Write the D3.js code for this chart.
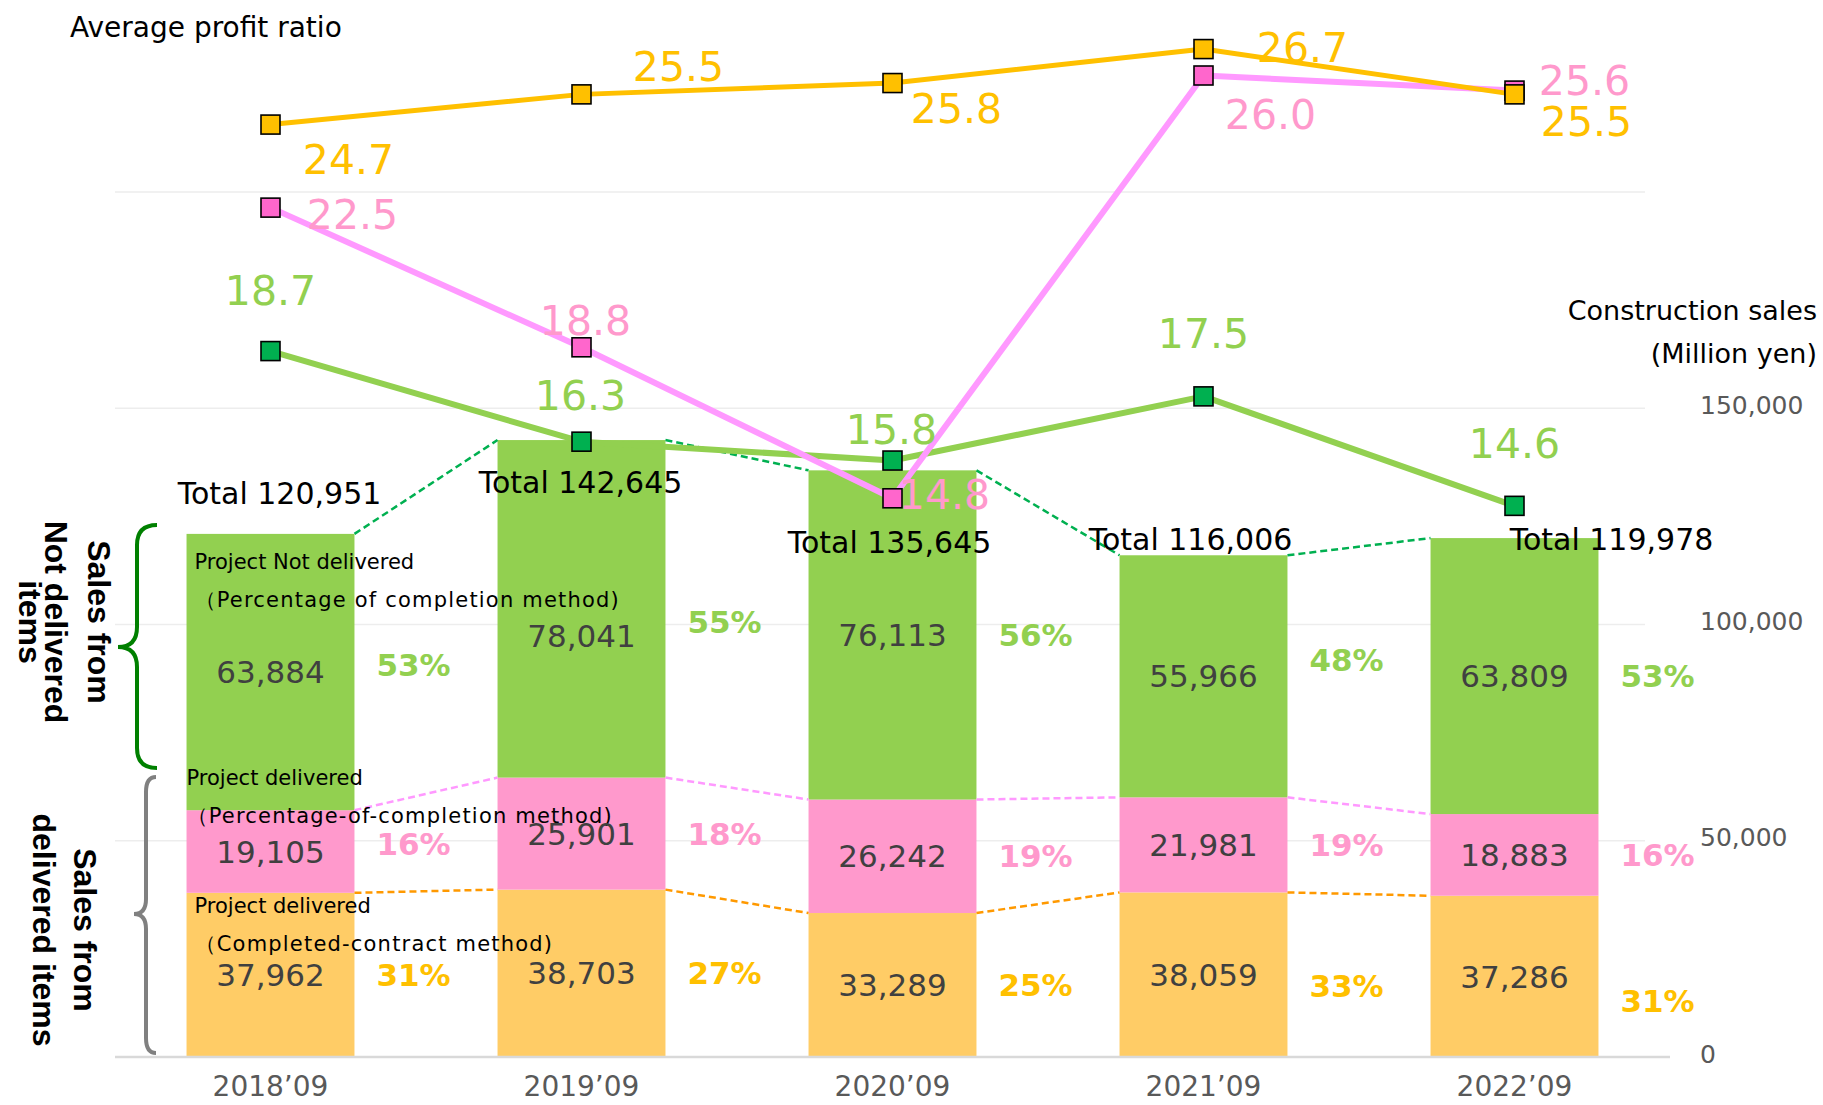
<!DOCTYPE html>
<html lang="en">
<head>
<meta charset="UTF-8">
<title>Construction sales and average profit ratio</title>
<script src="https://d3js.org/d3.v7.min.js"></script>
<style>
    body { margin: 0; background: #fff; }
    svg { display: block; font-family: "DejaVu Sans", Verdana, sans-serif; }
    .side-title { font-family: "Liberation Sans", Arial, sans-serif; font-weight: bold; font-size: 32px; }
    .axis text { font-family: "DejaVu Sans", Verdana, sans-serif; fill: #595959; }
</style>
</head>
<body>
<script>
    const years = ["2018’09", "2019’09", "2020’09", "2021’09", "2022’09"];

    // construction sales, million yen
    const notDelivered = [63884, 78041, 76113, 55966, 63809];
    const deliveredPoc = [19105, 25901, 26242, 21981, 18883];
    const deliveredCc = [37962, 38703, 33289, 38059, 37286];
    const totals = [120951, 142645, 135645, 116006, 119978];

    // share of total, %
    const pctNotDelivered = [53, 55, 56, 48, 53];
    const pctPoc = [16, 18, 19, 19, 16];
    const pctCc = [31, 27, 25, 33, 31];

    // average profit ratio, %
    const profitCc = [24.7, 25.5, 25.8, 26.7, 25.5];
    const profitPoc = [22.5, 18.8, 14.8, 26.0, 25.6];
    const profitNotDelivered = [18.7, 16.3, 15.8, 17.5, 14.6];

    const salesTicks = [0, 50000, 100000, 150000];
    const gridTicks = [50000, 100000, 150000, 200000];

    const width = 1823, height = 1105;
    const fmt = d3.format(",");

    const svg = d3.select("body").append("svg")
        .attr("width", width)
        .attr("height", height);

    const x = d3.scaleBand().domain(years).range([115, 1670]).paddingInner(0.46).paddingOuter(0.23);
    const y = d3.scaleLinear().domain([0, 200000]).range([1057, 192]);
    const y2 = d3.scaleLinear().domain([0, 28]).range([1057, 0]); // hidden secondary axis for the ratios
    const cx = yr => x(yr) + x.bandwidth() / 2;

    // grid
    svg.append("g").selectAll("line").data(gridTicks).join("line")
        .attr("x1", x.range()[0]).attr("x2", 1645)
        .attr("y1", d => y(d)).attr("y2", d => y(d))
        .attr("stroke", "#EDEDED").attr("stroke-width", 1.5);

    // stacked bars
    const rows = years.map((year, i) => ({ year, cc: deliveredCc[i], poc: deliveredPoc[i], nd: notDelivered[i] }));
    const stacked = d3.stack().keys(["cc", "poc", "nd"])(rows);
    const barColor = { cc: "#FFCC66", poc: "#FF99CC", nd: "#92D050" };
    const dashColor = { cc: "#FF9900", poc: "#FF99FF", nd: "#00B050" };
    const pctColor = { cc: "#FFC000", poc: "#FF99CC", nd: "#92D050" };
    const pcts = { cc: pctCc, poc: pctPoc, nd: pctNotDelivered };

    svg.append("g").selectAll("g").data(stacked).join("g")
        .attr("fill", d => barColor[d.key])
        .selectAll("rect").data(d => d).join("rect")
        .attr("x", d => x(d.data.year))
        .attr("width", x.bandwidth())
        .attr("y", d => y(d[1]))
        .attr("height", d => y(d[0]) - y(d[1]));

    // baseline
    svg.append("line")
        .attr("x1", x.range()[0]).attr("x2", x.range()[1])
        .attr("y1", y(0)).attr("y2", y(0))
        .attr("stroke", "#D9D9D9").attr("stroke-width", 2.5);

    // dashed connectors between bar segments
    stacked.forEach(layer => {
        svg.append("g").selectAll("line").data(d3.pairs(layer)).join("line")
            .attr("x1", ([a]) => x(a.data.year) + x.bandwidth())
            .attr("y1", ([a]) => y(a[1]))
            .attr("x2", ([, b]) => x(b.data.year))
            .attr("y2", ([, b]) => y(b[1]))
            .attr("stroke", dashColor[layer.key])
            .attr("stroke-width", 2.5)
            .attr("stroke-dasharray", "7,4");
    });

    // segment names next to the first bar
    const segNames = [
        { key: "nd", lines: ["Project Not delivered", "（Percentage of completion method)"], dy: 35, dx: 8 },
        { key: "poc", lines: ["Project delivered", "（Percentage-of-completion method)"], dy: -25, dx: 0 },
        { key: "cc", lines: ["Project delivered", "（Completed-contract method)"], dy: 20, dx: 8 }
    ];
    segNames.forEach(s => {
        const first = stacked.find(l => l.key === s.key)[0];
        const t = svg.append("text")
            .attr("x", x(years[0]) + s.dx)
            .attr("y", y(first[1]) + s.dy)
            .attr("font-size", 21)
            .attr("fill", "#000");
        s.lines.forEach((ln, i) => {
            t.append("tspan")
                .attr("x", x(years[0]) + s.dx)
                .attr("dy", i ? 38 : 0)
                .attr("letter-spacing", i ? 1.2 : 0)
                .text(ln);
        });
    });

    // values inside segments and shares beside them
    const valueNudge = { "nd-1": 27 };
    const pctNudge = { "nd-0": -7, "nd-1": 13, "nd-3": -16, "poc-0": -8, "cc-3": 11, "cc-4": 24 };
    stacked.forEach(layer => {
        const g = svg.append("g");
        g.selectAll("text.v").data(layer).join("text")
            .attr("class", "v")
            .attr("x", d => cx(d.data.year))
            .attr("y", (d, i) => (y(d[0]) + y(d[1])) / 2 + (valueNudge[layer.key + "-" + i] || 0))
            .attr("dy", "0.36em")
            .attr("text-anchor", "middle")
            .attr("font-size", 31)
            .attr("fill", "#404040")
            .text(d => fmt(d.data[layer.key]));
        g.selectAll("text.p").data(layer).join("text")
            .attr("class", "p")
            .attr("x", d => cx(d.data.year) + 143)
            .attr("y", (d, i) => (y(d[0]) + y(d[1])) / 2 + (pctNudge[layer.key + "-" + i] || 0))
            .attr("dy", "0.36em")
            .attr("text-anchor", "middle")
            .attr("font-size", 31)
            .attr("font-weight", "bold")
            .attr("fill", pctColor[layer.key])
            .text((d, i) => pcts[layer.key][i] + "%");
    });

    // totals
    const totalNudge = [[9, -30], [-1, 53], [-3, 83], [-13, -5], [97, 12]];
    svg.append("g").selectAll("text").data(totals).join("text")
        .attr("x", (d, i) => cx(years[i]) + totalNudge[i][0])
        .attr("y", (d, i) => y(d) + totalNudge[i][1])
        .attr("text-anchor", "middle")
        .attr("font-size", 30)
        .attr("fill", "#000")
        .text(d => "Total " + fmt(d));

    // axes
    const xAxis = svg.append("g").attr("class", "axis")
        .attr("transform", `translate(0,${y(0)})`)
        .call(d3.axisBottom(x).tickSize(0).tickPadding(19));
    xAxis.select(".domain").remove();
    xAxis.selectAll("text").attr("font-size", 28);

    const yAxis = svg.append("g").attr("class", "axis")
        .attr("transform", "translate(1690,0)")
        .call(d3.axisRight(y).tickValues(salesTicks).tickSize(0).tickPadding(10).tickFormat(fmt));
    yAxis.select(".domain").remove();
    yAxis.selectAll("text").attr("font-size", 25).attr("dy", "0.2em");

    // profit ratio lines
    const lineSeries = [
        { values: profitNotDelivered, stroke: "#92D050", marker: "#00B050", label: "#92D050", w: 6,
          nudge: [[0, -46], [-1, -32], [-1, -17], [0, -48], [0, -48]] },
        { values: profitPoc, stroke: "#FF99FF", marker: "#FF66CC", label: "#FF99CC", w: 6,
          nudge: [[82, 21], [4, -12], [52, 11], [67, 53], [70, 4]] },
        { values: profitCc, stroke: "#FFC000", marker: "#FFC000", label: "#FFC000", w: 5,
          nudge: [[78, 49], [97, -13], [64, 40], [99, 13], [72, 42]] }
    ];
    const line = d3.line().x((d, i) => cx(years[i])).y(d => y2(d));

    lineSeries.forEach(s => {
        svg.append("path")
            .attr("d", line(s.values))
            .attr("fill", "none")
            .attr("stroke", s.stroke)
            .attr("stroke-width", s.w)
            .attr("stroke-linejoin", "round");
    });
    const m = 19;
    lineSeries.forEach(s => {
        svg.append("g").selectAll("rect").data(s.values).join("rect")
            .attr("x", (d, i) => cx(years[i]) - m / 2)
            .attr("y", d => y2(d) - m / 2)
            .attr("width", m).attr("height", m)
            .attr("fill", s.marker)
            .attr("stroke", "#000").attr("stroke-width", 1.6);
    });
    lineSeries.forEach(s => {
        svg.append("g").selectAll("text").data(s.values).join("text")
            .attr("x", (d, i) => cx(years[i]) + s.nudge[i][0])
            .attr("y", (d, i) => y2(d) + s.nudge[i][1])
            .attr("text-anchor", "middle")
            .attr("font-size", 41)
            .attr("fill", s.label)
            .text(d => d.toFixed(1));
    });

    // titles
    svg.append("text").attr("x", 70).attr("y", 37).attr("font-size", 28).text("Average profit ratio");
    svg.append("text").attr("x", 1817).attr("y", 320).attr("font-size", 27)
        .attr("text-anchor", "end").text("Construction sales");
    svg.append("text").attr("x", 1817).attr("y", 363).attr("font-size", 27)
        .attr("text-anchor", "end").text("(Million yen)");

    // braces on the left
    function brace(xEnd, xSpine, xTip, yTop, yBot, yTip, r) {
        const p = d3.path();
        p.moveTo(xEnd, yTop);
        p.quadraticCurveTo(xSpine, yTop, xSpine, yTop + r);
        p.lineTo(xSpine, yTip - r);
        p.quadraticCurveTo(xSpine, yTip, xTip, yTip);
        p.quadraticCurveTo(xSpine, yTip, xSpine, yTip + r);
        p.lineTo(xSpine, yBot - r);
        p.quadraticCurveTo(xSpine, yBot, xEnd, yBot);
        return p.toString();
    }
    svg.append("path").attr("d", brace(157, 137, 118, 525, 768, 647, 20))
        .attr("fill", "none").attr("stroke", "#008000").attr("stroke-width", 4);
    svg.append("path").attr("d", brace(156, 146, 134, 777, 1053, 914, 15))
        .attr("fill", "none").attr("stroke", "#808080").attr("stroke-width", 4);

    const sideTitles = [
        { cy: 622, lines: [["Sales from", 88], ["Not delivered", 45], ["items", 19]] },
        { cy: 930, lines: [["Sales from", 74], ["delivered items", 33]] }
    ];
    sideTitles.forEach(b => {
        b.lines.forEach(([txt, bx]) => {
            svg.append("text").attr("class", "side-title")
                .attr("transform", `translate(${bx},${b.cy}) rotate(90)`)
                .attr("text-anchor", "middle")
                .text(txt);
        });
    });
</script>
</body>
</html>
